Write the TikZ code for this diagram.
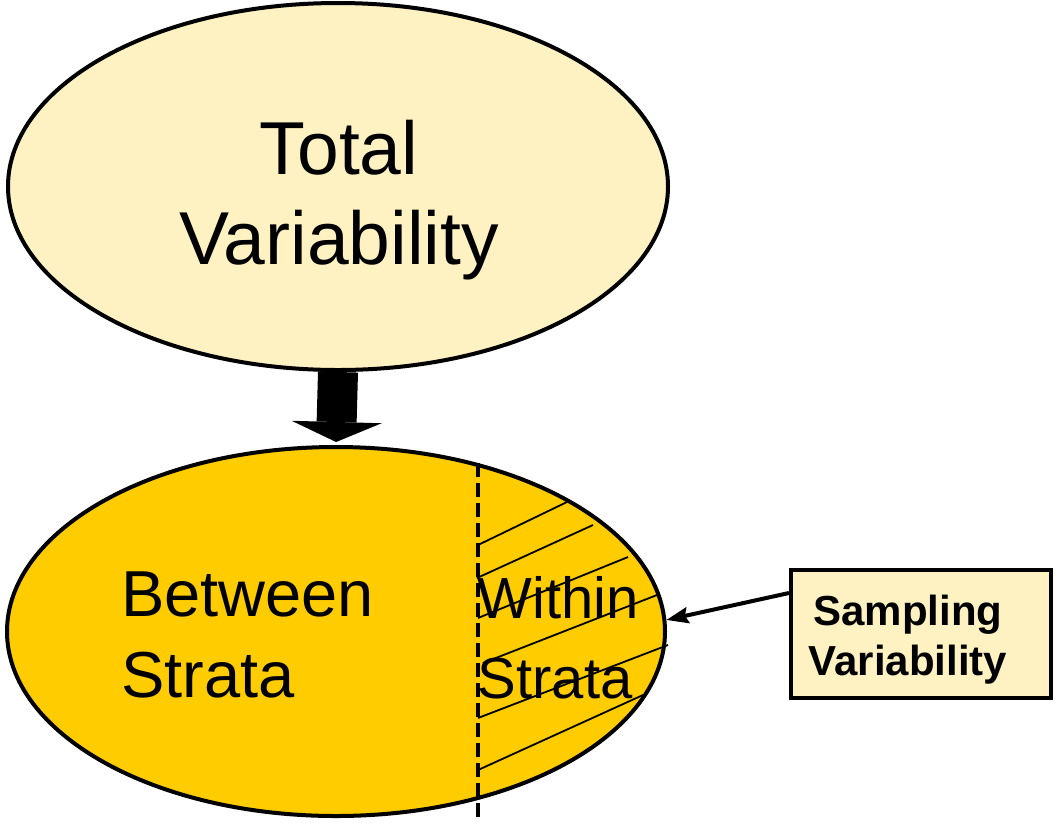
\documentclass[tikz,border=0pt]{standalone}
\usepackage{fontspec}
\setmainfont{Liberation Sans}
\usetikzlibrary{shapes.geometric, arrows.meta}
\definecolor{lightyellow}{RGB}{255,242,194}
\definecolor{gold}{RGB}{255,204,0}

\begin{document}
\begin{tikzpicture}[
    x=1pt, y=-1pt,
    oval/.style={
        ellipse,
        draw,
        line width=4pt,
        inner sep=0pt
    },
    box/.style={
        rectangle,
        draw,
        line width=4pt,
        fill=lightyellow,
        minimum width=260pt,
        minimum height=128pt
    },
    words/.style={
        inner sep=0pt,
        align=#1
    }
]
\useasboundingbox (0,0) rectangle (1057,823);

\node[oval, fill=lightyellow, minimum width=660pt, minimum height=367pt] (total) at (338,186.5) {};
\node[oval, fill=gold, minimum width=658pt, minimum height=369pt] (strata) at (336,631.5) {};
\node[box] (sampling) at (921,634) {};

% hatching of the within part
\foreach \xa/\ya/\xb/\yb in {478/545/567/502, 477/578/593/525, 478/618/628/557,
                             483/663/657/595, 478/718/668/645, 478/770/643/695}
    \draw[line width=1.8pt] (\xa,\ya) -- (\xb,\yb);

\draw[line width=4pt, dash pattern=on 14pt off 6pt] (478,463) -- (478,823);

\node[words=center, font=\fontsize{75}{90}\selectfont] (totaltext) at (339,200) {Total\\Variability};
\node[words=left, font=\fontsize{65}{81}\selectfont, anchor=west] (betweentext) at (121,634.7) {Between\\Strata};
\node[words=left, font=\fontsize{58}{80}\selectfont, anchor=west] (withintext) at (477.5,637.7) {Within\\Strata};
\node[words=center, font=\bfseries\fontsize{42}{50}\selectfont] (samplingtext) at (908,639.4) {Sampling\\Variability};

\draw[line width=40pt, -{Triangle[width=90pt, length=20pt, line width=0pt]}, shorten >=3pt] (total.south) -- (strata.north);
\draw[line width=4pt, -{Stealth[length=22pt, width=16pt, inset=3pt]}] ([yshift=41pt]sampling.west) -- (strata.2);

\end{tikzpicture}
\end{document}
